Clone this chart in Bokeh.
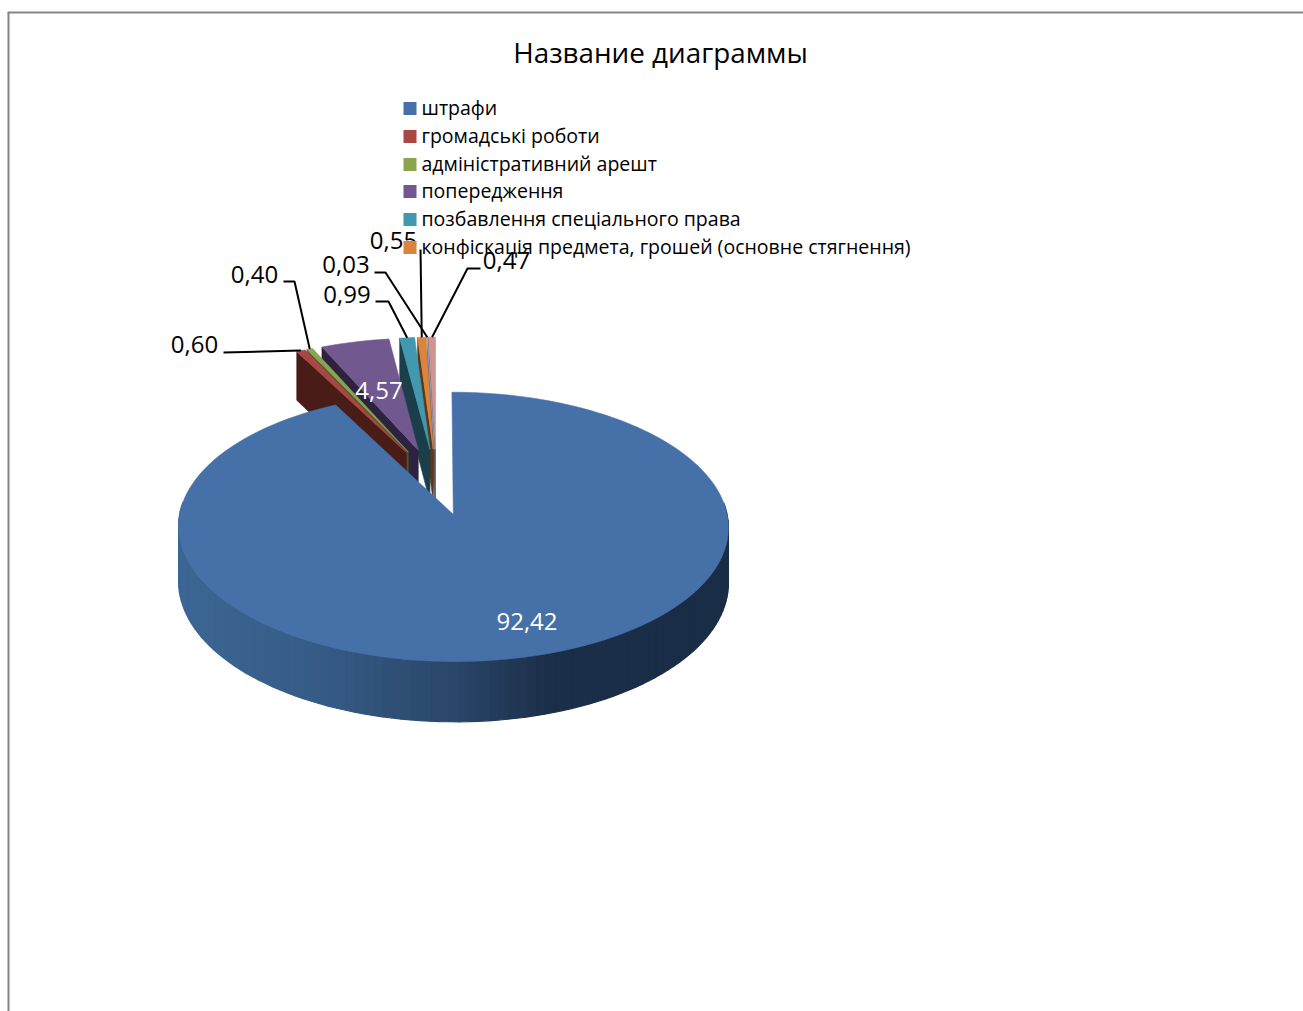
import math
from bokeh.plotting import figure
from bokeh.models import Range1d
from bokeh.core.properties import value
from bokeh.embed import file_html
from bokeh.resources import INLINE

TITLE = "Название диаграммы"
values = [92.42, 0.60, 0.40, 4.57, 0.99, 0.55, 0.03, 0.47]
value_labels = ["92,42", "0,60", "0,40", "4,57", "0,99", "0,55", "0,03", "0,47"]
legend_names = ["штрафи", "громадські роботи", "адміністративний арешт",
                "попередження", "позбавлення спеціального права",
                "конфіскація предмета, грошей (основне стягнення)"]
top_colors = ["#4571a8", "#aa4643", "#89a54e", "#71588f", "#4198af", "#db843d", "#93a9cf", "#d09392"]
wall_colors = ["#2a4668", "#4a1c17", "#4b5a2b", "#2e2240", "#1a3f4b", "#5c3718", "#4b5a70", "#6b4342"]

W, H = 1303, 1011
FONT = "Open Sans"
# pie camera
OX, OY, RX, RY, PERSP, EXPLODE, DEPTH = 436.0, 481.0, 267.5, 127.5, 0.09, 0.26, 53.5

p = figure(width=W, height=H, x_range=Range1d(0, W), y_range=Range1d(H, 0),
           output_backend="svg", toolbar_location=None, min_border=0,
           outline_line_color=None, background_fill_color="white", border_fill_color="white")
p.axis.visible = False
p.grid.visible = False


def proj(u, v, z=0.0):
    d = 1 + PERSP * v
    return OX + RX * u / d, OY - RY * v / d + z / d


def pt(th, offs, r=1.0, z=0.0):
    return proj(offs[0] + r * math.sin(th), offs[1] + r * math.cos(th), z)


def poly(points, color, lw=0.6):
    p.patch([q[0] for q in points], [q[1] for q in points], fill_color=color,
            line_color=color, line_width=lw)


def ramp(x):
    stops = [(0.0, (60, 102, 148)), (0.25, (54, 92, 134)), (0.5, (42, 70, 105)),
             (0.68, (27, 46, 72)), (1.0, (26, 45, 70))]
    t = max(0.0, min(1.0, (x - 178) / 550))
    for (a, ca), (b, cb) in zip(stops, stops[1:]):
        if t <= b:
            f = (t - a) / (b - a)
            return "#%02x%02x%02x" % tuple(round(ca[i] + (cb[i] - ca[i]) * f) for i in range(3))


total = sum(values)
spans = []
acc = 0.0
for val in values:
    a0 = acc / total * 2 * math.pi
    acc += val
    a1 = acc / total * 2 * math.pi
    mid = (a0 + a1) / 2
    spans.append((a0, a1, (EXPLODE * math.sin(mid), EXPLODE * math.cos(mid))))

# frame of the chart area
p.line([8, 8], [12, H], line_color="#868686", line_width=2)
p.line([7, W], [12, 12], line_color="#868686", line_width=2)

# small slices, back (right) to front (left)
for i in range(len(values) - 1, 0, -1):
    a0, a1, offs = spans[i]
    apex = pt(0, offs, 0.0)
    rim = pt(a0, offs)
    poly([apex, rim, pt(a0, offs, 1.0, DEPTH), pt(0, offs, 0.0, DEPTH)], wall_colors[i])
    n = max(2, int((a1 - a0) / 0.03))
    arc = [pt(a0 + (a1 - a0) * j / n, offs) for j in range(n + 1)]
    poly([apex] + arc, top_colors[i])

# main slice: rim wall (front part only) as a shaded band, then the top face
a0, a1, offs = spans[0]
n = 180
for j in range(n):
    t0 = a0 + (a1 - a0) * j / n
    t1 = a0 + (a1 - a0) * (j + 1) / n
    if math.cos((t0 + t1) / 2) > 0.1:
        continue
    q0, q1 = pt(t0, offs), pt(t1, offs)
    poly([q0, q1, pt(t1, offs, 1.0, DEPTH), pt(t0, offs, 1.0, DEPTH)], ramp((q0[0] + q1[0]) / 2), 1.2)
poly([pt(0, offs, 0.0)] + [pt(a0 + (a1 - a0) * j / n, offs) for j in range(n + 1)], top_colors[0])

# leader lines: label elbow -> slice rim
leaders = {1: [(223, 352), (300, 350)],
           2: [(283, 281), (294, 281)],
           4: [(375, 301), (388, 301)],
           5: [(420, 249)],
           6: [(374, 272), (385, 272)],
           7: [(480, 268), (467, 268)]}
for i, path in leaders.items():
    a0, a1, offs = spans[i]
    end = pt((a0 + a1) / 2, offs)
    xs = [q[0] for q in path] + [end[0]]
    ys = [q[1] for q in path] + [end[1]]
    p.line(xs, ys, line_color="black", line_width=2)

# data labels
label_pos = {0: (526.5, 621, "white"), 1: (194, 344, "black"), 2: (254, 273.5, "black"),
             3: (378.5, 390, "white"), 4: (346.5, 293.5, "black"), 5: (393, 240, "black"),
             6: (345.5, 263.5, "black"), 7: (506, 259.5, "black")}
for i, (x, y, col) in label_pos.items():
    p.text([x], [y], text=[value_labels[i]], text_color=col, text_font=value(FONT),
           text_font_size="24px", text_align="center", text_baseline="middle")

# legend
row_y = [108, 136, 164, 191, 219, 247]
for i, name in enumerate(legend_names):
    y = row_y[i]
    p.quad(left=[403], right=[416], top=[y - 6.5], bottom=[y + 6.5], fill_color=top_colors[i], line_color=None)
    p.text([421], [y - 1], text=[name], text_color="black", text_font=value(FONT),
           text_font_size="19.55px", text_align="left", text_baseline="middle")

# title
p.text([660], [51], text=[TITLE], text_color="black", text_font=value(FONT),
       text_font_size="27.8px", text_align="center", text_baseline="middle")

open("out.html", "w").write(file_html(p, INLINE))
